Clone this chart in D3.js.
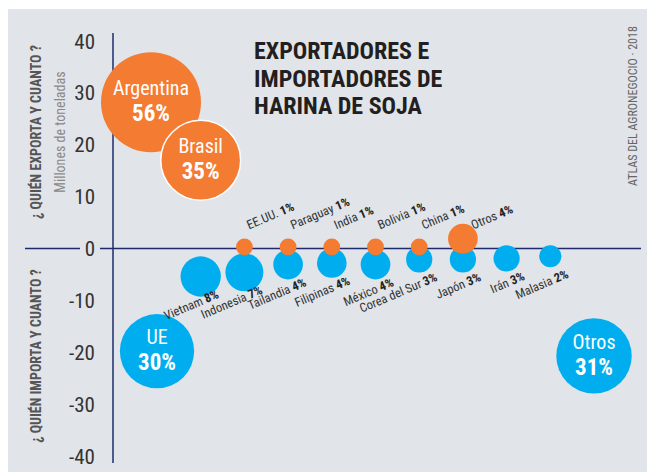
<!DOCTYPE html>
<html>
<head>
<meta charset="utf-8">
<script src="https://cdn.jsdelivr.net/npm/d3@7"></script>
<style>
  body { margin: 0; background: #fff; }
  svg { display: block; font-family: "Liberation Sans Narrow", "Roboto Condensed", "DejaVu Sans Condensed", sans-serif; }
</style>
</head>
<body>
<svg id="chart"></svg>
<script>
const exporters = ["Argentina", "Brasil", "EE.UU.", "Paraguay", "India", "Bolivia", "China", "Otros"];
const exportShare = [56, 35, 1, 1, 1, 1, 1, 4];
const exportVolume = [28.2, 17, 0.3, 0.3, 0.3, 0.3, 0.3, 1.9];

const importers = ["UE", "Vietnam", "Indonesia", "Tailandia", "Filipinas", "México", "Corea del Sur", "Japón", "Irán", "Malasia", "Otros"];
const importShare = [30, 8, 7, 4, 4, 4, 3, 3, 3, 2, 31];
const importVolume = [-19.8, -5.4, -4.6, -3.1, -2.8, -3.1, -2.1, -2.1, -1.9, -1.5, -20.7];

const yTicks = [40, 30, 20, 10, 0, -10, -20, -30, -40];

const W = 647, H = 472;
const orange = "#f47b32", blue = "#00aeef", axisColor = "#1d2b6e";

const svg = d3.select("#chart").attr("width", W).attr("height", H);

// panel
svg.append("rect").attr("x", 8).attr("y", 9).attr("width", W - 8).attr("height", H - 9).attr("fill", "#e1e4e8");

const y = d3.scaleLinear().domain([-40, 40]).range([456, 41]);
const x = d3.scalePoint().domain(d3.range(importers.length)).range([157, 594]);
const r = d3.scaleSqrt().domain([0, 56]).range([2, 50]);

// y axis ticks (text only)
svg.append("g").selectAll("text")
  .data(yTicks)
  .enter().append("text")
  .attr("x", 95)
  .attr("y", d => y(d))
  .attr("dy", "0.36em")
  .attr("text-anchor", "end")
  .attr("font-size", 21)
  .attr("fill", "#333")
  .text(d => d);

// axis lines
svg.append("line").attr("x1", 113).attr("x2", 113).attr("y1", 33).attr("y2", 463)
  .attr("stroke", axisColor).attr("stroke-width", 1.5);
svg.append("line").attr("x1", 25).attr("x2", 80).attr("y1", y(0)).attr("y2", y(0))
  .attr("stroke", axisColor).attr("stroke-width", 1.5);
svg.append("line").attr("x1", 100).attr("x2", 641).attr("y1", y(0)).attr("y2", y(0))
  .attr("stroke", axisColor).attr("stroke-width", 1.5);

// side labels
svg.append("text")
  .attr("transform", "translate(41,132) rotate(-90)")
  .attr("text-anchor", "middle").attr("font-size", 14).attr("font-weight", "bold").attr("fill", "#555")
  .text("¿ QUIÉN EXPORTA Y CUANTO ?");
svg.append("text")
  .attr("transform", "translate(41,356) rotate(-90)")
  .attr("text-anchor", "middle").attr("font-size", 14).attr("font-weight", "bold").attr("fill", "#555")
  .text("¿ QUIÉN IMPORTA Y CUANTO ?");
svg.append("text")
  .attr("transform", "translate(65,132) rotate(-90)")
  .attr("text-anchor", "middle").attr("font-size", 14).attr("fill", "#888")
  .text("Millones de toneladas");
svg.append("text")
  .attr("transform", "translate(637,106) rotate(-90)")
  .attr("text-anchor", "middle").attr("font-size", 12).attr("fill", "#666")
  .text("ATLAS DEL AGRONEGOCIO · 2018");

// title
const title = svg.append("text").attr("x", 254).attr("font-size", 24).attr("font-weight", "bold").attr("fill", "#231f20");
["EXPORTADORES E", "IMPORTADORES DE", "HARINA DE SOJA"].forEach((t, i) => {
  title.append("tspan").attr("x", 254).attr("y", 59 + i * 27.5).text(t);
});

const imp = importers.map((name, i) => ({ name, share: importShare[i], value: importVolume[i], i }));
const exp = exporters.map((name, i) => ({ name, share: exportShare[i], value: exportVolume[i], i }));

// importers
svg.append("g").selectAll("circle")
  .data(imp)
  .enter().append("circle")
  .attr("cx", d => x(d.i))
  .attr("cy", d => y(d.value))
  .attr("r", d => r(d.share))
  .attr("fill", blue);

// exporters
svg.append("g").selectAll("circle")
  .data(exp)
  .enter().append("circle")
  .attr("cx", d => x(d.i) - (d.i === 0 ? 6 : 0))
  .attr("cy", d => y(d.value))
  .attr("r", d => r(d.share))
  .attr("fill", orange)
  .attr("stroke", d => d.i === 1 ? "#fff" : "none")
  .attr("stroke-width", 1.5);

// labels inside big bubbles
const big = exp.map(d => Object.assign({}, d, { dx: d.i === 0 ? -6 : 0 }))
  .concat(imp.map(d => Object.assign({}, d, { dx: 0 })))
  .filter(d => d.share >= 30);
const bigG = svg.append("g").selectAll("g")
  .data(big)
  .enter().append("g")
  .attr("transform", d => `translate(${x(d.i) + d.dx},${y(d.value)})`)
  .attr("text-anchor", "middle")
  .attr("fill", "#fff");
bigG.append("text").attr("y", -7).attr("font-size", 20).text(d => d.name);
bigG.append("text").attr("y", 19).attr("font-size", 23).attr("font-weight", "bold").text(d => d.share + "%");

// rotated labels, exporters (above the line)
const expLab = svg.append("g").selectAll("text")
  .data(exp.filter(d => d.share < 30))
  .enter().append("text")
  .attr("transform", d => `translate(${x(d.i) + r(d.share) * 0.9 - 3},${y(0) - 19}) rotate(-23)`)
  .attr("font-size", 12.5)
  .attr("fill", "#333");
expLab.append("tspan").text(d => d.name + " ");
expLab.append("tspan").attr("font-weight", "bold").attr("fill", "#222").text(d => d.share + "%");

// rotated labels, importers (below the bubbles)
const impLab = svg.append("g").selectAll("text")
  .data(imp.filter(d => d.share < 30))
  .enter().append("text")
  .attr("transform", d => `translate(${x(d.i) + 19},${y(d.value) + 21}) rotate(-23)`)
  .attr("text-anchor", "end")
  .attr("font-size", 12.5)
  .attr("fill", "#333");
impLab.append("tspan").text(d => d.name + " ");
impLab.append("tspan").attr("font-weight", "bold").attr("fill", "#222").text(d => d.share + "%");
</script>
</body>
</html>
